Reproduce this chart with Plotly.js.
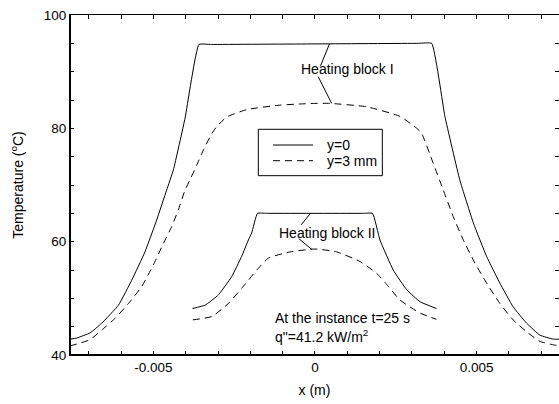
<!DOCTYPE html>
<html>
<head>
<meta charset="utf-8">
<script src="https://cdn.plot.ly/plotly-3.0.1.min.js"></script>
<style>html,body{margin:0;padding:0;background:#fff}#chart{width:559px;height:404px}</style>
</head>
<body>
<div id="chart"></div>
<script>
// Block I, y=0 (solid)
var block1SolidX = [-0.00758, -0.00737, -0.00696, -0.00660, -0.00608, -0.00567, -0.00526, -0.00490, -0.00459, -0.00438, -0.00402, -0.00359, -0.00320, 0, 0.00320, 0.00361, 0.00402, 0.00448, 0.00490, 0.00531, 0.00572, 0.00613, 0.00655, 0.00696, 0.00737, 0.00758];
var block1SolidT = [42.8, 43.0, 43.9, 45.6, 48.8, 53.2, 58.2, 63.8, 69.1, 72.7, 81.8, 94.8, 94.8, 94.9, 95.0, 95.0, 82.1, 70.9, 63.3, 57.4, 52.7, 48.5, 45.6, 43.5, 42.8, 42.8];
// Block I, y=3 mm (dashed)
var block1DashX = [-0.00758, -0.00727, -0.00696, -0.00660, -0.00618, -0.00577, -0.00536, -0.00500, -0.00469, -0.00443, -0.00423, -0.00402, -0.00387, -0.00366, -0.00345, -0.00319, -0.00304, -0.00273, -0.00211, -0.00108, -0.00046, 0, 0.00046, 0.00160, 0.00263, 0.00315, 0.00330, 0.00366, 0.00397, 0.00428, 0.00459, 0.00495, 0.00531, 0.00572, 0.00613, 0.00655, 0.00696, 0.00737, 0.00758];
var block1DashT = [41.6, 42.1, 42.7, 44.4, 46.5, 49.1, 52.1, 55.9, 59.7, 62.7, 65.6, 69.1, 70.9, 73.5, 76.2, 79.1, 80.3, 82.0, 83.3, 84.1, 84.3, 84.4, 84.4, 83.8, 82.1, 80.0, 79.1, 73.8, 69.1, 64.4, 60.3, 56.2, 52.7, 49.1, 46.2, 44.1, 42.4, 41.8, 41.6];
// Block II, y=0 (solid)
var block2SolidX = [-0.00379, -0.00340, -0.00299, -0.00258, -0.00227, -0.00206, -0.00196, -0.00178, -0.00150, 0.00150, 0.00178, 0.00201, 0.00242, 0.00284, 0.00325, 0.00376];
var block2SolidT = [48.2, 48.8, 50.6, 53.8, 57.4, 60.3, 61.5, 65.0, 65.0, 65.0, 65.0, 60.3, 55.0, 51.5, 49.4, 48.2];
// Block II, y=3 mm (dashed)
var block2DashX = [-0.00378, -0.00319, -0.00268, -0.00222, -0.00180, -0.00144, -0.00077, 0, 0.00067, 0.00139, 0.00191, 0.00227, 0.00263, 0.00325, 0.00376];
var block2DashT = [46.2, 46.8, 49.1, 52.1, 55.0, 57.1, 58.2, 58.7, 58.2, 56.5, 54.4, 52.1, 49.7, 47.4, 46.3];

// tick positions and labels (blank labels mark the small intermediate ticks)
var xTickVals = [-0.007, -0.006, -0.005, -0.004, -0.003, -0.002, -0.001, 0, 0.001, 0.002, 0.003, 0.004, 0.005, 0.006, 0.007];
var xTickText = ['', '', '-0.005', '', '', '', '', '0', '', '', '', '', '0.005', '', ''];
var yTickVals = [40, 45, 50, 55, 60, 65, 70, 75, 80, 85, 90, 95, 100];
var yTickText = ['40', '', '', '', '60', '', '', '', '80', '', '', '', '100'];
var seriesNames = ['y=0', 'y=3 mm'];

var FONT = 'Arial, "Liberation Sans", sans-serif';

var solidLine = {color: '#000', width: 1, shape: 'spline', smoothing: 0.35};
var dashLine = {color: '#000', width: 1, dash: '7px,5px', shape: 'spline', smoothing: 0.5};

var traces = [
  {x: block1SolidX, y: block1SolidT, mode: 'lines', line: solidLine, name: seriesNames[0]},
  {x: block1DashX, y: block1DashT, mode: 'lines', line: dashLine, name: seriesNames[1]},
  {x: block2SolidX, y: block2SolidT, mode: 'lines', line: solidLine, name: seriesNames[0]},
  {x: block2DashX, y: block2DashT, mode: 'lines', line: dashLine, name: seriesNames[1]}
];

var layout = {
  width: 559, height: 404,
  margin: {l: 70, r: 0, t: 15, b: 49},
  showlegend: false,
  font: {family: FONT, color: '#000'},
  xaxis: {
    range: [-0.00758, 0.00755], tickmode: 'array', tickvals: xTickVals, ticktext: xTickText,
    showline: true, linecolor: '#000', linewidth: 1, mirror: 'ticks',
    ticks: 'inside', ticklen: 4, tickcolor: '#000', showgrid: false, zeroline: false,
    tickfont: {family: FONT, size: 13.5, color: '#000'},
    title: {text: 'x (m)', font: {family: FONT, size: 14, color: '#000'}, standoff: 10}
  },
  yaxis: {
    range: [40, 100], tickmode: 'array', tickvals: yTickVals, ticktext: yTickText,
    showline: true, linecolor: '#000', linewidth: 1, mirror: 'ticks',
    ticks: 'inside', ticklen: 4, tickcolor: '#000', showgrid: false, zeroline: false,
    tickfont: {family: FONT, size: 13.5, color: '#000'},
    title: {text: 'Temperature (<sup>o</sup>C)', font: {family: FONT, size: 14, color: '#000'}, standoff: 16}
  },
  shapes: [
    {type: 'line', xref: 'paper', yref: 'paper', x0: 0, x1: 0, y0: 0, y1: 1, line: {color: '#000', width: 2}},
    {type: 'line', xref: 'paper', yref: 'paper', x0: 0, x1: 1, y0: 0, y1: 0, line: {color: '#000', width: 2}},
    {type: 'line', xref: 'x', yref: 'y', x0: 0.000170, y0: 91.0, x1: 0.000448, y1: 94.9, line: {color: '#000', width: 1}},
    {type: 'line', xref: 'x', yref: 'y', x0: 0.000102, y0: 89.1, x1: 0.000516, y1: 84.4, line: {color: '#000', width: 1}},
    {type: 'line', xref: 'x', yref: 'y', x0: -0.000433, y0: 62.95, x1: -0.000139, y1: 65.0, line: {color: '#000', width: 1}},
    {type: 'line', xref: 'x', yref: 'y', x0: -0.000495, y0: 60.5, x1: -0.000093, y1: 58.6, line: {color: '#000', width: 1}},
    {type: 'rect', xref: 'paper', yref: 'paper', x0: 0.3851, x1: 0.6387, y0: 0.5274, y1: 0.6638, line: {color: '#000', width: 1}, fillcolor: 'rgba(0,0,0,0)'},
    {type: 'line', xref: 'paper', yref: 'paper', x0: 0.4151, x1: 0.4969, y0: 0.6176, y1: 0.6176, line: {color: '#000', width: 1}},
    {type: 'line', xref: 'paper', yref: 'paper', x0: 0.4151, x1: 0.4969, y0: 0.5715, y1: 0.5715, line: {color: '#000', width: 1, dash: '7px,5px'}}
  ],
  annotations: [
    {xref: 'x', yref: 'y', x: -0.000485, y: 90.4, text: 'Heating block I', showarrow: false, xanchor: 'left', yanchor: 'middle', font: {family: FONT, size: 14, color: '#000'}},
    {xref: 'x', yref: 'y', x: -0.001175, y: 61.6, text: 'Heating block II', showarrow: false, xanchor: 'left', yanchor: 'middle', font: {family: FONT, size: 14, color: '#000'}},
    {xref: 'x', yref: 'y', x: -0.00129, y: 46.5, text: 'At the instance t=25 s', showarrow: false, xanchor: 'left', yanchor: 'middle', font: {family: FONT, size: 14, color: '#000'}},
    {xref: 'x', yref: 'y', x: -0.00129, y: 43.4, text: 'q"=41.2 kW/m<sup>2</sup>', showarrow: false, xanchor: 'left', yanchor: 'middle', font: {family: FONT, size: 14, color: '#000'}},
    {xref: 'paper', yref: 'paper', x: 0.5215, y: 0.6176, text: seriesNames[0], showarrow: false, xanchor: 'left', yanchor: 'middle', font: {family: FONT, size: 14, color: '#000'}},
    {xref: 'paper', yref: 'paper', x: 0.5215, y: 0.5715, text: seriesNames[1], showarrow: false, xanchor: 'left', yanchor: 'middle', font: {family: FONT, size: 14, color: '#000'}}
  ]
};

Plotly.newPlot('chart', traces, layout, {displayModeBar: false, staticPlot: true});
</script>
</body>
</html>
